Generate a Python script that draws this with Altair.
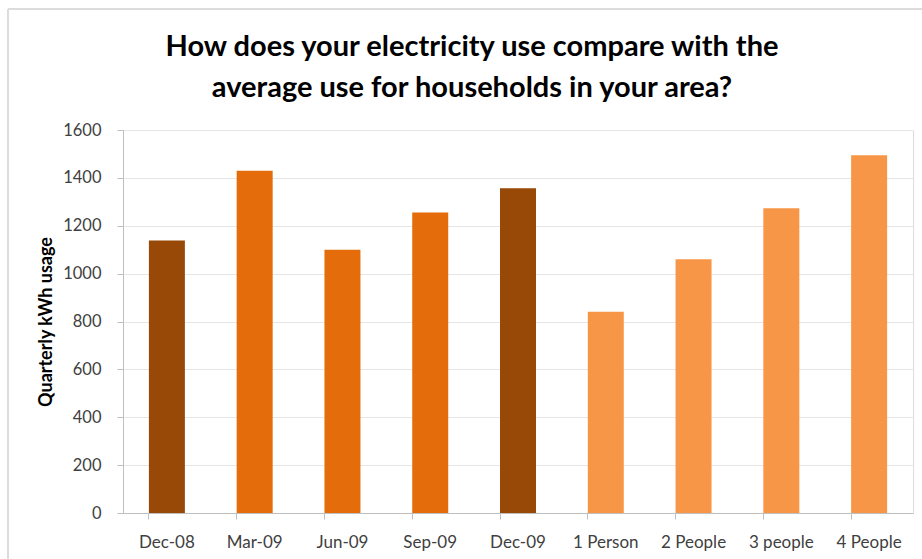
import altair as alt
import pandas as pd

categories = ["Dec-08", "Mar-09", "Jun-09", "Sep-09", "Dec-09",
              "1 Person", "2 People", "3 people", "4 People"]
values = [1138, 1430, 1100, 1255, 1357, 841, 1060, 1273, 1494]
groups = ["year", "quarter", "quarter", "quarter", "year",
          "avg", "avg", "avg", "avg"]
group_domain = ["year", "quarter", "avg"]
group_colors = ["#984807", "#E46C0A", "#F79646"]
y_ticks = [0, 200, 400, 600, 800, 1000, 1200, 1400, 1600]
title_lines = ["How does your electricity use compare with the",
               "average use for households in your area?"]

df = pd.DataFrame({"cat": categories, "val": values, "grp": groups})

FONT = "Lato"
W, H = 790, 383

bars = alt.Chart(df).mark_bar().encode(
    x=alt.X("cat:N", sort=categories, title=None,
            scale=alt.Scale(paddingInner=0.59, paddingOuter=0.295),
            axis=alt.Axis(labelAngle=0, labelFont=FONT, labelFontSize=17,
                          labelColor="#404040", labelPadding=15,
                          domainColor="#bfbfbf", tickColor="#bfbfbf",
                          tickSize=6, bandPosition=0, grid=False)),
    y=alt.Y("val:Q", title="Quarterly kWh usage",
            scale=alt.Scale(domain=[0, 1600], nice=False),
            axis=alt.Axis(values=y_ticks, format="d", labelFont=FONT,
                          labelFontSize=16.5, labelColor="#404040",
                          labelPadding=16,
                          domainColor="#bfbfbf", tickColor="#bfbfbf",
                          tickSize=6, gridColor="#e6e6e6",
                          titleFont=FONT, titleFontSize=18,
                          titleFontWeight="bold", titleColor="#000000",
                          titlePadding=7)),
    color=alt.Color("grp:N", scale=alt.Scale(domain=group_domain,
                                             range=group_colors),
                    legend=None),
)

frame_data = alt.Data(values=[{}])
top_edge = alt.Chart(frame_data).mark_rule(color="#dcdcdc", strokeWidth=2).encode(
    x=alt.value(-115), x2=alt.value(820), y=alt.value(-121))
left_edge = alt.Chart(frame_data).mark_rule(color="#dcdcdc", strokeWidth=2).encode(
    x=alt.value(-115), y=alt.value(-121), y2=alt.value(440))

chart = alt.layer(top_edge, left_edge, bars).properties(
    width=W, height=H,
    title=alt.TitleParams(text=title_lines, font=FONT, fontSize=29,
                          fontWeight="bold", color="#000000",
                          anchor="middle", dx=-46, lineHeight=41,
                          offset=-95),
    autosize=alt.AutoSizeParams(type="none"),
    padding={"left": 123, "top": 130, "right": 9, "bottom": 46},
).configure_view(stroke=None).configure(background="white")

chart.save("out.html", embed_options={"renderer": "svg", "actions": False})
